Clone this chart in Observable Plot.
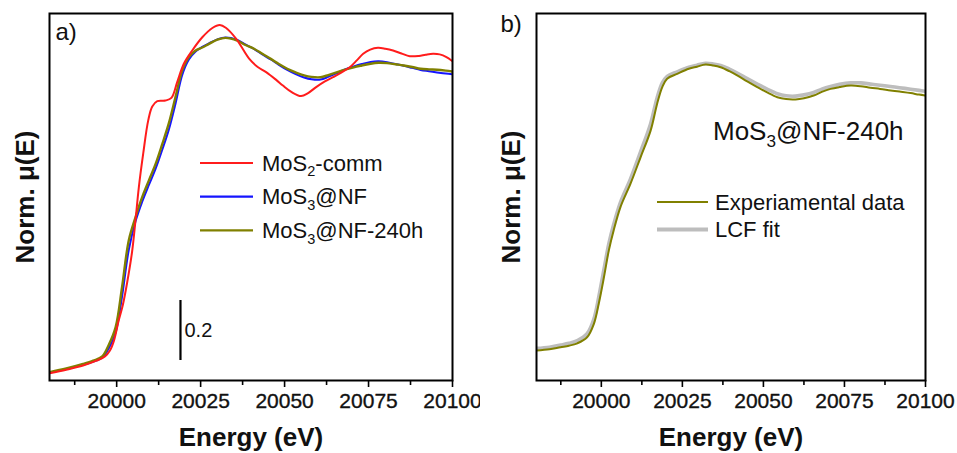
<!DOCTYPE html>
<html>
<head>
<meta charset="utf-8">
<script src="https://cdn.jsdelivr.net/npm/d3@7"></script>
<script src="https://cdn.jsdelivr.net/npm/@observablehq/plot@0.6"></script>
<style>
  body { margin: 0; background: #fff; }
  #wrap { display: flex; width: 957px; height: 453px; overflow: hidden; }
</style>
</head>
<body>
<div id="wrap"></div>
<script>
// ---- Panel a: Mo K-edge XANES of the reference and the two samples ----
const energyComm = [19980, 19985, 19990, 19994, 19996.5, 19998, 19999.2, 20000.6, 20001.8, 20003.1,
  20004.6, 20005.6, 20006.6, 20007.9, 20009.4, 20010.6, 20012.1, 20014.5, 20016.3, 20018,
  20020, 20022.5, 20025.5, 20028.5, 20030.7, 20032.5, 20035.6, 20039.5, 20042, 20044.5,
  20047.5, 20049.5, 20052, 20054.9, 20057, 20059.4, 20062, 20064.4, 20067, 20069.4,
  20071.5, 20073.4, 20075.5, 20077.8, 20080, 20082.3, 20084.8, 20087.3, 20090, 20092,
  20094.2, 20096.2, 20098.2, 20100];
const muComm = [0.024, 0.036, 0.05, 0.066, 0.08, 0.1, 0.133, 0.2, 0.25, 0.325,
  0.43, 0.533, 0.644, 0.756, 0.867, 0.913, 0.931, 0.933, 0.942, 0.994,
  1.056, 1.1, 1.144, 1.175, 1.185, 1.176, 1.139, 1.072, 1.045, 1.028,
  1.002, 0.983, 0.962, 0.948, 0.958, 0.978, 0.997, 1.011, 1.027, 1.044,
  1.067, 1.089, 1.103, 1.109, 1.106, 1.1, 1.09, 1.081, 1.082, 1.086,
  1.089, 1.087, 1.078, 1.064];

const energyNF = [19980, 19985, 19990, 19993, 19995.7, 19997.7, 19999.7, 20001.6, 20003.6, 20005.6,
  20007.6, 20009.6, 20011.6, 20013.6, 20015.5, 20017.5, 20019.5, 20021.5, 20023.5, 20025.5,
  20027.5, 20030, 20032.4, 20035.9, 20038, 20040.9, 20043.5, 20045.9, 20048.3, 20050.8,
  20053.3, 20055.8, 20058, 20060.7, 20063, 20065.7, 20068, 20070.6, 20073, 20075.6,
  20078, 20080.5, 20083, 20085.5, 20088, 20090.5, 20093, 20095.4, 20098, 20100];
const muNF = [0.026, 0.038, 0.052, 0.063, 0.076, 0.108, 0.16, 0.28, 0.435, 0.53,
  0.596, 0.652, 0.706, 0.77, 0.835, 0.922, 1.018, 1.07, 1.097, 1.112,
  1.124, 1.137, 1.143, 1.135, 1.122, 1.105, 1.086, 1.07, 1.052, 1.035,
  1.021, 1.01, 1.004, 1.003, 1.012, 1.025, 1.037, 1.047, 1.055, 1.062,
  1.064, 1.061, 1.055, 1.049, 1.042, 1.035, 1.031, 1.027, 1.023, 1.021];
const muNF240 = [0.028, 0.04, 0.055, 0.066, 0.08, 0.12, 0.178, 0.311, 0.467, 0.544,
  0.611, 0.667, 0.722, 0.789, 0.856, 0.944, 1.033, 1.078, 1.1, 1.11,
  1.122, 1.136, 1.142, 1.133, 1.12, 1.106, 1.088, 1.072, 1.055, 1.039,
  1.027, 1.017, 1.012, 1.011, 1.018, 1.028, 1.036, 1.044, 1.05, 1.056,
  1.059, 1.058, 1.054, 1.05, 1.045, 1.039, 1.037, 1.036, 1.033, 1.03];

// ---- Panel b: MoS3@NF-240h spectrum and its linear combination fit ----
const energyFit = [19980, 19984, 19987.4, 19990, 19992.6, 19995.6, 19997.7, 19999.2, 20000.8, 20002.3,
  20003.8, 20005.9, 20009, 20012.1, 20015.2, 20017.2, 20018.8, 20020.3, 20023.4, 20027,
  20029.5, 20032.1, 20034.5, 20036.8, 20039.5, 20041.9, 20045, 20048.1, 20051, 20054.3,
  20057, 20059.9, 20062.5, 20065.5, 20068, 20070.7, 20073.5, 20076.9, 20080, 20083,
  20086, 20089.2, 20092, 20095.4, 20098, 20100];
const muExp = [0.1, 0.104, 0.111, 0.116, 0.124, 0.144, 0.189, 0.256, 0.344, 0.433,
  0.5, 0.578, 0.656, 0.744, 0.833, 0.922, 0.978, 1.006, 1.022, 1.039,
  1.046, 1.053, 1.05, 1.044, 1.031, 1.017, 0.997, 0.978, 0.961, 0.944,
  0.938, 0.937, 0.941, 0.95, 0.962, 0.972, 0.978, 0.983, 0.981, 0.976,
  0.972, 0.967, 0.963, 0.958, 0.953, 0.95];
const muLCF = [0.107, 0.111, 0.118, 0.124, 0.133, 0.156, 0.205, 0.278, 0.37, 0.455,
  0.52, 0.594, 0.672, 0.762, 0.856, 0.942, 0.992, 1.014, 1.029, 1.044,
  1.051, 1.057, 1.055, 1.05, 1.038, 1.025, 1.006, 0.988, 0.972, 0.956,
  0.949, 0.948, 0.952, 0.96, 0.971, 0.98, 0.987, 0.992, 0.992, 0.988,
  0.984, 0.98, 0.976, 0.971, 0.967, 0.964];

// ---- Axes ----
const energyDomain = [19980, 20100];
const muDomain = [0, 1.2233];
const majorTicks = [20000, 20025, 20050, 20075, 20100];
const minorTicks = [19987.5, 20012.5, 20037.5, 20062.5, 20087.5];

// Vertical scale bar in panel a
const scaleBarEnergy = 20019;
const scaleBarBase = 0.0667;
const scaleBarSize = 0.2;

const FONT = '"Liberation Sans", Arial, Helvetica, sans-serif';
const rows = (xs, ys) => xs.map((E, i) => ({E, mu: ys[i]}));

// Text with "_n" turned into a subscript digit.
function richText(g, x, y, label, size) {
  const t = g.append("text")
    .attr("x", x).attr("y", y + size * 0.35)
    .attr("text-anchor", "start")
    .attr("font-size", size).attr("font-family", FONT).attr("fill", "#111");
  const parts = label.split(/_(\d)/);
  parts.forEach((p, i) => {
    if (!p) return;
    if (i % 2 === 1) {
      t.append("tspan").attr("dy", size * 0.26).attr("font-size", size * 0.66).text(p);
    } else {
      const s = t.append("tspan").text(p);
      if (i > 0) s.attr("dy", -size * 0.26);
    }
  });
  return t;
}

// Line-sample legend drawn inside the frame.
function legend(items, {x, y, step, len, gap, size}) {
  return () => {
    const g = d3.create("svg:g");
    items.forEach((it, i) => {
      const yy = y + i * step;
      g.append("line").attr("x1", x).attr("x2", x + len).attr("y1", yy).attr("y2", yy)
        .attr("stroke", it.color).attr("stroke-width", it.width);
      richText(g, x + len + gap, yy, it.label, size);
    });
    return g.node();
  };
}

function label(text, {x, y, size}) {
  return () => {
    const g = d3.create("svg:g");
    richText(g, x, y, text, size);
    return g.node();
  };
}

function commonMarks(panelLetter, letterDx, letterDy, yLabelDx) {
  return [
    Plot.axisX({ticks: minorTicks, tickSize: 5, tickFormat: () => "", strokeWidth: 1.6}),
    Plot.axisX({ticks: majorTicks, tickSize: 7, tickFormat: () => "", strokeWidth: 1.6}),
    Plot.text(majorTicks, {x: d => d, frameAnchor: "bottom", lineAnchor: "top", dy: 13,
      text: d3.format("d"), fontSize: 21, fill: "#111", stroke: "#111", strokeWidth: 0.35}),
    Plot.text(["Energy (eV)"], {frameAnchor: "bottom", dy: 57, lineAnchor: "middle",
      fontSize: 26, fontWeight: "bold", fill: "#111"}),
    Plot.text(["Norm. μ(E)"], {frameAnchor: "left", rotate: -90, textAnchor: "middle",
      lineAnchor: "middle", dx: yLabelDx, fontSize: 26, fontWeight: "bold", fill: "#111"}),
    Plot.text([panelLetter], {frameAnchor: "top-left", textAnchor: "start", lineAnchor: "top",
      dx: letterDx, dy: letterDy, fontSize: 24, fill: "#111"})
  ];
}

// Panel a
const plotA = Plot.plot({
  width: 480, height: 453,
  marginLeft: 49, marginRight: 28, marginTop: 13, marginBottom: 73,
  style: {fontFamily: FONT, fontSize: "21px", background: "#fff"},
  x: {domain: energyDomain, label: null},
  y: {domain: muDomain, axis: null},
  marks: [
    ...commonMarks("a)", 6, 9, -24),
    Plot.line(rows(energyNF, muNF), {x: "E", y: "mu", stroke: "#1515ff", strokeWidth: 2, curve: "catmull-rom", clip: true}),
    Plot.line(rows(energyNF, muNF240), {x: "E", y: "mu", stroke: "#808000", strokeWidth: 2.4, curve: "catmull-rom", clip: true}),
    Plot.line(rows(energyComm, muComm), {x: "E", y: "mu", stroke: "#ff1c1c", strokeWidth: 2, curve: "catmull-rom", clip: true}),
    Plot.ruleX([{E: scaleBarEnergy, lo: scaleBarBase, hi: scaleBarBase + scaleBarSize}],
      {x: "E", y1: "lo", y2: "hi", stroke: "#000", strokeWidth: 2.2}),
    Plot.text([{E: scaleBarEnergy, mid: scaleBarBase + scaleBarSize / 2, size: scaleBarSize}],
      {x: "E", y: "mid", text: d => String(d.size), textAnchor: "start", dx: 4, fontSize: 20, fill: "#111"}),
    legend([
      {label: "MoS_2-comm", color: "#ff1c1c", width: 2},
      {label: "MoS_3@NF", color: "#1515ff", width: 2.2},
      {label: "MoS_3@NF-240h", color: "#808000", width: 2.4}
    ], {x: 200, y: 163, step: 33.7, len: 53, gap: 9, size: 22}),
    Plot.frame({stroke: "#000", strokeWidth: 2})
  ]
});

// Panel b
const plotB = Plot.plot({
  width: 477, height: 453,
  marginLeft: 56, marginRight: 32, marginTop: 13, marginBottom: 73,
  style: {fontFamily: FONT, fontSize: "21px", background: "#fff"},
  x: {domain: energyDomain, label: null},
  y: {domain: muDomain, axis: null},
  marks: [
    ...commonMarks("b)", -36, 1, -25),
    Plot.line(rows(energyFit, muLCF), {x: "E", y: "mu", stroke: "#bdbdbd", strokeWidth: 3.6, curve: "catmull-rom", clip: true}),
    Plot.line(rows(energyFit, muExp), {x: "E", y: "mu", stroke: "#808000", strokeWidth: 2, curve: "catmull-rom", clip: true}),
    label("MoS_3@NF-240h", {x: 233, y: 131, size: 26}),
    legend([
      {label: "Experiamental data", color: "#808000", width: 2},
      {label: "LCF fit", color: "#bdbdbd", width: 4}
    ], {x: 177, y: 202, step: 27.5, len: 51, gap: 7, size: 22}),
    Plot.frame({stroke: "#000", strokeWidth: 2})
  ]
});

const wrap = document.getElementById("wrap");
wrap.append(plotA, plotB);
</script>
</body>
</html>
